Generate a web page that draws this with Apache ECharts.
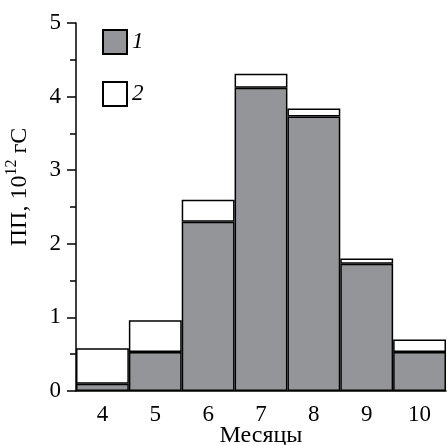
<!DOCTYPE html>
<html><head><meta charset="utf-8">
<script src="https://cdn.jsdelivr.net/npm/echarts@6/dist/echarts.min.js"></script>
<style>html,body{margin:0;padding:0;background:#fff}#c{width:447px;height:445px}</style>
</head><body><div id="c"></div>
<script>
const months = ['4','5','6','7','8','9','10'];
const series1 = [0.10, 0.53, 2.30, 4.12, 3.73, 1.73, 0.53];
const series2 = [0.48, 0.43, 0.30, 0.19, 0.11, 0.07, 0.17];
const yTicks = [0, 1, 2, 3, 4, 5];
const FONT = 'Liberation Serif';
const chart = echarts.init(document.getElementById('c'));
chart.setOption({
  animation: false,
  grid: {left: 76, right: 1, top: 23, bottom: 54, containLabel: false, outerBoundsMode: 'none'},
  legend: {
    orient: 'vertical', left: 102, top: 29, padding: 0, itemWidth: 24, itemHeight: 24, itemGap: 26,
    icon: 'rect',
    textStyle: {fontFamily: FONT, fontStyle: 'italic', fontSize: 23, color: '#000', padding: [0,0,0,0]},
    data: ['1', '2']
  },
  xAxis: {
    type: 'category', data: months, boundaryGap: true,
    name: 'Месяцы', nameLocation: 'middle', nameGap: 33, nameMoveOverlap: false,
    nameTextStyle: {fontFamily: FONT, fontSize: 24, color: '#000', lineHeight: 24},
    axisLine: {lineStyle: {color: '#000', width: 1.5}},
    axisTick: {alignWithLabel: true, length: 7, lineStyle: {color: '#000', width: 1.5}},
    axisLabel: {fontFamily: FONT, fontSize: 23, color: '#000', margin: 12}
  },
  yAxis: {
    type: 'value', min: yTicks[0], max: yTicks[yTicks.length-1], interval: 1,
    name: '{a|ПП, 10}{s|12}{a| гС}', nameLocation: 'middle', nameGap: 44, nameRotate: 90, nameMoveOverlap: false,
    nameTextStyle: {fontFamily: FONT, color: '#000', padding: [0,0,0,40],
      rich: {a: {fontFamily: FONT, fontSize: 24, color: '#000', lineHeight: 28, verticalAlign: 'bottom'},
             s: {fontFamily: FONT, fontSize: 16, color: '#000', lineHeight: 28, verticalAlign: 'top', padding: [0,0,4,0]}}},
    axisLine: {show: true, lineStyle: {color: '#000', width: 1.5}},
    axisTick: {show: true, length: 9, lineStyle: {color: '#000', width: 1.5}},
    minorTick: {show: true, splitNumber: 2, length: 6, lineStyle: {color: '#000', width: 1.5}},
    splitLine: {show: false},
    axisLabel: {fontFamily: FONT, fontSize: 23, color: '#000', margin: 15}
  },
  series: [
    {name: '1', type: 'bar', stack: 't', data: series1, barCategoryGap: '0%',
     itemStyle: {color: '#939598', borderColor: '#000', borderWidth: 1.5}},
    {name: '2', type: 'bar', stack: 't', data: series2, barCategoryGap: '0%',
     itemStyle: {color: '#fff', borderColor: '#000', borderWidth: 1.5}}
  ]
});
</script></body></html>
